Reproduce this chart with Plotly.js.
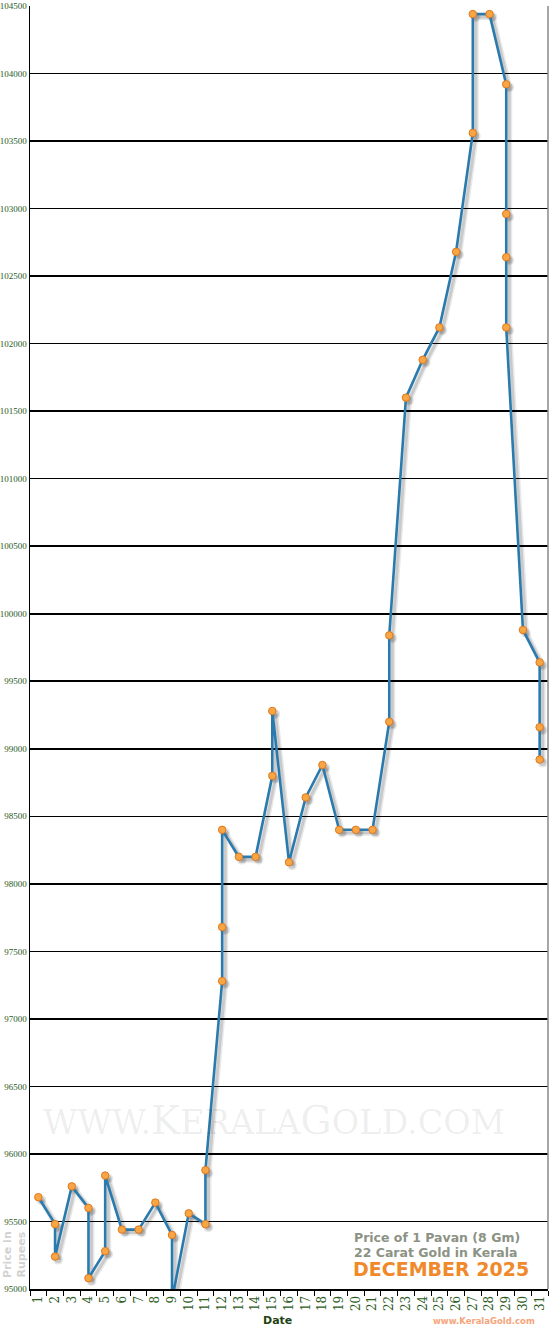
<!DOCTYPE html>
<html>
<head>
<meta charset="utf-8">
<script src="https://cdn.plot.ly/plotly-3.0.1.min.js"></script>
<style>
    body{margin:0; padding:0; background:#fff;}
    #graph{width:550px; height:1330px;}
</style>
</head>
<body>
<div id="graph"></div>
<script>
//Price per pavan, one entry per price change (day of month, rupees)
let days = [1, 2, 2, 3, 4, 4, 5, 5, 6, 7, 8, 9, 9, 10, 11, 11, 12, 12, 12, 13, 14, 15, 15, 16, 17, 18,
    19, 20, 21, 22, 22, 23, 24, 25, 26, 27, 27, 28, 29, 29, 29, 29, 30, 31, 31, 31];
let prices = [95680, 95480, 95240, 95760, 95600, 95080, 95280, 95840, 95440, 95440, 95640, 95400, 94920,
    95560, 95480, 95880, 97280, 97680, 98400, 98200, 98200, 98800, 99280, 98160, 98640, 98880,
    98400, 98400, 98400, 99200, 99840, 101600, 101880, 102120, 102680, 103560, 104440, 104440,
    103920, 102960, 102640, 102120, 99880, 99640, 99160, 98920];

let dayLabels = [];
for(let i = 1; i <= 31; i++){
    dayLabels.push(String(i));
}
let priceTicks = [];
for(let p = 95000; p <= 104500; p += 500){
    priceTicks.push(p);
}

let xRange = [0.5, 31.5];
let yRange = [95000, 104500];

let margin = {l: 30, r: 2, t: 6, b: 41};
let plotW = 550 - margin.l - margin.r;
let plotH = 1330 - margin.t - margin.b;

//shadow sits a few pixels right and down, done by shifting the range of the hidden axes
let shadowPx = 3;
let dx = shadowPx * (xRange[1] - xRange[0]) / plotW;
let dy = shadowPx * (yRange[1] - yRange[0]) / plotH;

let green = "#2b5a1c";

let boundaries = [];
for(let i = 0; i <= 31; i++){
    boundaries.push(i + 0.5);
}

let shadowWide = {
    x: days, y: prices, xaxis: "x", yaxis: "y",
    mode: "lines+markers",
    line: {color: "rgba(0,0,0,0.09)", width: 6},
    marker: {color: "rgba(0,0,0,0.09)", size: 10},
    hoverinfo: "skip", showlegend: false
};
let shadowCore = {
    x: days, y: prices, xaxis: "x", yaxis: "y",
    mode: "lines+markers",
    line: {color: "rgba(0,0,0,0.13)", width: 3},
    marker: {color: "rgba(0,0,0,0.13)", size: 7},
    hoverinfo: "skip", showlegend: false
};
let priceLine = {
    x: days, y: prices, xaxis: "x2", yaxis: "y2",
    mode: "lines+markers",
    line: {color: "#2a7aae", width: 2.6},
    marker: {color: "#f7a646", size: 7.5, line: {color: "#e2781c", width: 1}},
    cliponaxis: false,
    showlegend: false
};

let annFont = "DejaVu Sans, Verdana, sans-serif";

let layout = {
    width: 550,
    height: 1330,
    margin: margin,
    paper_bgcolor: "#fff",
    plot_bgcolor: "#fff",
    showlegend: false,
    xaxis: {
        range: [xRange[0] - dx, xRange[1] - dx],
        visible: false, fixedrange: true
    },
    yaxis: {
        range: [yRange[0] + dy, yRange[1] + dy],
        visible: false, fixedrange: true
    },
    xaxis2: {
        overlaying: "x", anchor: "y2", side: "bottom",
        range: xRange,
        tickmode: "array",
        tickvals: dayLabels.map(Number),
        ticktext: dayLabels,
        tickangle: -90,
        ticks: "",
        minor: {tickmode: "array", tickvals: boundaries, ticks: "outside", ticklen: 5, tickcolor: "#000", tickwidth: 1, showgrid: false},
        tickfont: {family: "DejaVu Serif, serif", size: 12, color: green},
        showgrid: false,
        zeroline: false,
        showline: true, linecolor: "#000", linewidth: 2,
        automargin: false
    },
    yaxis2: {
        overlaying: "y", anchor: "x2", side: "left",
        range: yRange,
        tickmode: "array",
        tickvals: priceTicks,
        ticktext: priceTicks.map(String),
        ticks: "",
        ticklabelstandoff: 0,
        tickfont: {family: "Liberation Serif, serif", size: 9, color: green},
        showgrid: true, gridcolor: "#000", gridwidth: 1.6,
        zeroline: false,
        showline: true, linecolor: "#000", linewidth: 1.5,
        automargin: false
    },
    shapes: [
        {type: "line", xref: "paper", yref: "paper", x0: 1, x1: 1, y0: 0, y1: 1, line: {color: "#8a8a8a", width: 1.5}}
    ],
    annotations: [
        {
            text: "WWW.<span style=\"font-size:39px\">K</span>ERALA<span style=\"font-size:39px\">G</span>OLD.COM",
            xref: "paper", yref: "paper", x: 0.471, y: 0.1317,
            xanchor: "center", yanchor: "middle", showarrow: false,
            font: {family: "DejaVu Serif, serif", size: 33.5, color: "rgba(0,0,0,0.08)"}
        },
        {
            text: "Price in<br>Rupees",
            xref: "paper", yref: "paper", x: -0.029, y: 0.0273,
            xanchor: "center", yanchor: "middle", showarrow: false, textangle: -90,
            font: {family: annFont, size: 11, color: "#d2d2d2", weight: "bold"}
        },
        {
            text: "Date",
            xref: "paper", yref: "paper", x: 0.477, y: -0.0249,
            xanchor: "center", yanchor: "middle", showarrow: false,
            font: {family: annFont, size: 11, color: "#1f4414", weight: "bold"}
        },
        {
            text: "Price of 1 Pavan (8 Gm)",
            xref: "paper", yref: "paper", x: 0.621, y: 0.0398,
            xanchor: "left", yanchor: "middle", showarrow: false,
            font: {family: annFont, size: 12.5, color: "#8c9385", weight: "bold"}
        },
        {
            text: "22 Carat Gold in Kerala",
            xref: "paper", yref: "paper", x: 0.621, y: 0.0288,
            xanchor: "left", yanchor: "middle", showarrow: false,
            font: {family: annFont, size: 12.5, color: "#8c9385", weight: "bold"}
        },
        {
            text: "DECEMBER 2025",
            xref: "paper", yref: "paper", x: 0.619, y: 0.0156,
            xanchor: "left", yanchor: "middle", showarrow: false,
            font: {family: annFont, size: 19, color: "#f0892c", weight: "bold"}
        },
        {
            text: "www.KeralaGold.com",
            xref: "paper", yref: "paper", x: 0.877, y: -0.0249,
            xanchor: "center", yanchor: "middle", showarrow: false,
            font: {family: annFont, size: 8.5, color: "#f5a47a", weight: "bold"}
        }
    ]
};

Plotly.newPlot("graph", [shadowWide, shadowCore, priceLine], layout, {staticPlot: true});
</script>
</body>
</html>
